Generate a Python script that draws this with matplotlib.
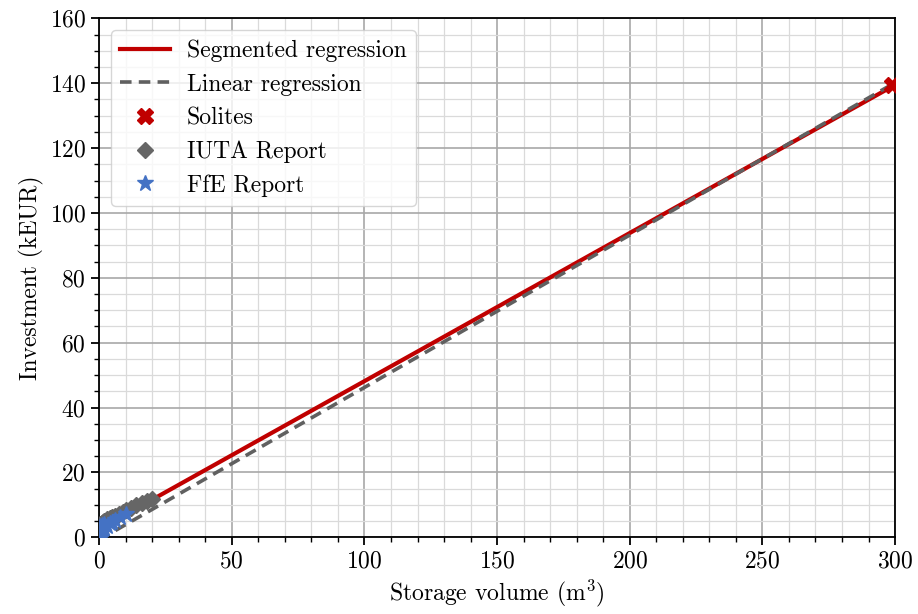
import matplotlib
matplotlib.use('Agg')
import matplotlib.pyplot as plt
import numpy as np
from matplotlib.ticker import MultipleLocator

plt.rcParams['font.family'] = 'serif'
plt.rcParams['font.serif'] = ['cmr10']
plt.rcParams['mathtext.fontset'] = 'cm'
plt.rcParams['axes.formatter.use_mathtext'] = True
plt.rcParams['font.size'] = 17

# storage cost data (volume in m3, investment in kEUR)
ffe_vol = [0.3, 0.3, 0.4, 0.5, 0.5, 0.75, 0.8, 1.0, 1.0, 1.5, 2.0, 2.0, 3.0, 4.0, 5.0, 6.0, 8.0, 10.0]
ffe_inv = [0.6, 2.0, 3.4, 1.2, 2.8, 1.8, 3.1, 2.2, 3.7, 2.6, 3.0, 4.0, 3.6, 4.3, 4.8, 5.3, 6.2, 7.2]
iuta_vol = [0.5, 1.0, 1.5, 2.0, 3.0, 4.0, 5.0, 6.0, 7.5, 9.0, 10.0, 12.0, 14.0, 16.0, 18.0, 20.0]
iuta_inv = [4.0, 4.4, 4.8, 5.1, 5.5, 5.9, 6.3, 6.7, 7.3, 7.9, 8.3, 9.1, 9.9, 10.6, 11.2, 11.8]
solites_vol = [299.0]
solites_inv = [139.5]

# segmented fit: break points
seg_x = [0, 20, 300]
seg_y = [3.8, 11.6, 139.5]
# linear fit
lin_slope = 0.47
lin_icpt = -0.8

fig, ax = plt.subplots(figsize=(9.18, 6.14), dpi=100)
fig.subplots_adjust(left=0.108, right=0.975, top=0.970, bottom=0.125)

ax.plot(seg_x, seg_y, color='#c00000', lw=3.0, label='Segmented regression', zorder=3)
xl = np.array([0, 300])
ax.plot(xl, lin_slope * xl + lin_icpt, color='#606060', lw=2.6, ls=(0, (3.2, 2.0)),
        label='Linear regression', zorder=3)
ax.plot(solites_vol, solites_inv, ls='none', marker='X', ms=12, color='#c00000',
        label='Solites', zorder=4)
ax.plot(iuta_vol, iuta_inv, ls='none', marker='D', ms=8.5, color='#666666',
        label='IUTA Report', zorder=4)
ax.plot(ffe_vol, ffe_inv, ls='none', marker='*', ms=12, color='#4472c4',
        label='FfE Report', zorder=5)

ax.set_xlim(0, 300)
ax.set_ylim(0, 160)
ax.xaxis.set_major_locator(MultipleLocator(50))
ax.xaxis.set_minor_locator(MultipleLocator(10))
ax.yaxis.set_major_locator(MultipleLocator(20))
ax.yaxis.set_minor_locator(MultipleLocator(5))
ax.grid(which='major', color='#a8a8a8', lw=1.2)
ax.grid(which='minor', color='#dadada', lw=0.9)
ax.set_axisbelow(True)
ax.tick_params(which='major', length=6, width=1.3)
ax.tick_params(which='minor', length=3.5, width=1.0)
for s in ax.spines.values():
    s.set_linewidth(1.3)

ax.set_xlabel('Storage volume (m$^3$)')
ax.set_ylabel('Investment (kEUR)')
ax.legend(loc='upper left', framealpha=0.8, edgecolor='#cccccc', fancybox=True,
          borderaxespad=0.5, handlelength=2.1, handletextpad=0.7, labelspacing=0.48)

fig.savefig('out.png', dpi=100)
